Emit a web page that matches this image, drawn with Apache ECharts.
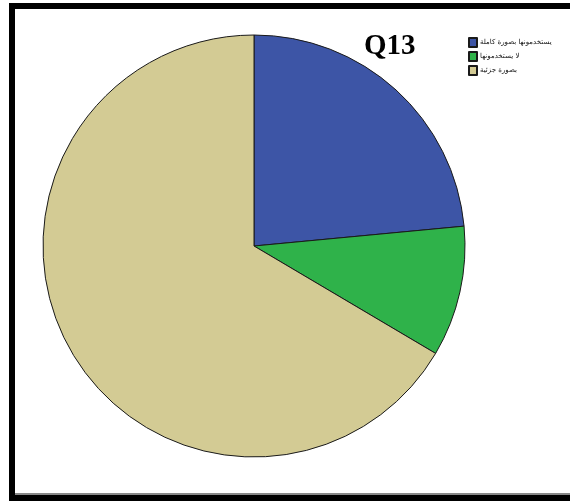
<!DOCTYPE html>
<html>
<head>
<meta charset="utf-8">
<script src="https://cdn.jsdelivr.net/npm/echarts@6/dist/echarts.min.js"></script>
<style>
  html, body { margin: 0; padding: 0; background: #fff; }
  #chart { width: 570px; height: 501px; }
</style>
</head>
<body>
<div id="chart"></div>
<script>
// Answer categories for question Q13 and their share (percent)
const categories = ['يستخدمونها بصورة كاملة', 'لا يستخدمونها', 'بصورة جزئية'];
const shares = [23.5, 10, 66.5];
const sliceColors = ['#3d55a6', '#2fb24a', '#d3cb94'];

const chart = echarts.init(document.getElementById('chart'), null, { renderer: 'canvas' });

chart.setOption({
  animation: false,
  backgroundColor: '#ffffff',
  title: {
    text: 'Q13',
    left: 359,
    top: 27,
    textStyle: { fontFamily: 'Liberation Serif', fontWeight: 'bold', fontSize: 29, color: '#000' }
  },
  legend: {
    orient: 'vertical',
    left: 463,
    top: 32,
    icon: 'rect',
    itemWidth: 8,
    itemHeight: 9,
    itemGap: 3,
    textStyle: { fontSize: 7, color: '#111', fontFamily: 'DejaVu Sans', padding: [0, 0, 0, -2] },
    data: categories
  },
  graphic: [
    // frame on the left, top and bottom
    { type: 'rect', shape: { x: 9, y: 3, width: 6, height: 498 }, style: { fill: '#000' } },
    { type: 'rect', shape: { x: 9, y: 3, width: 561, height: 6 }, style: { fill: '#000' } },
    { type: 'rect', shape: { x: 9, y: 495, width: 561, height: 6 }, style: { fill: '#000' } },
    { type: 'rect', shape: { x: 15, y: 493, width: 555, height: 2 }, style: { fill: '#888' } }
  ],
  series: [{
    type: 'pie',
    center: [254, 246],
    radius: [0, 211],
    startAngle: 90,
    clockwise: true,
    label: { show: false },
    labelLine: { show: false },
    emphasis: { disabled: true },
    itemStyle: { borderColor: '#1a1a1a', borderWidth: 1 },
    data: categories.map((name, i) => ({
      name: name,
      value: shares[i],
      itemStyle: { color: sliceColors[i] }
    }))
  }]
});
</script>
</body>
</html>
